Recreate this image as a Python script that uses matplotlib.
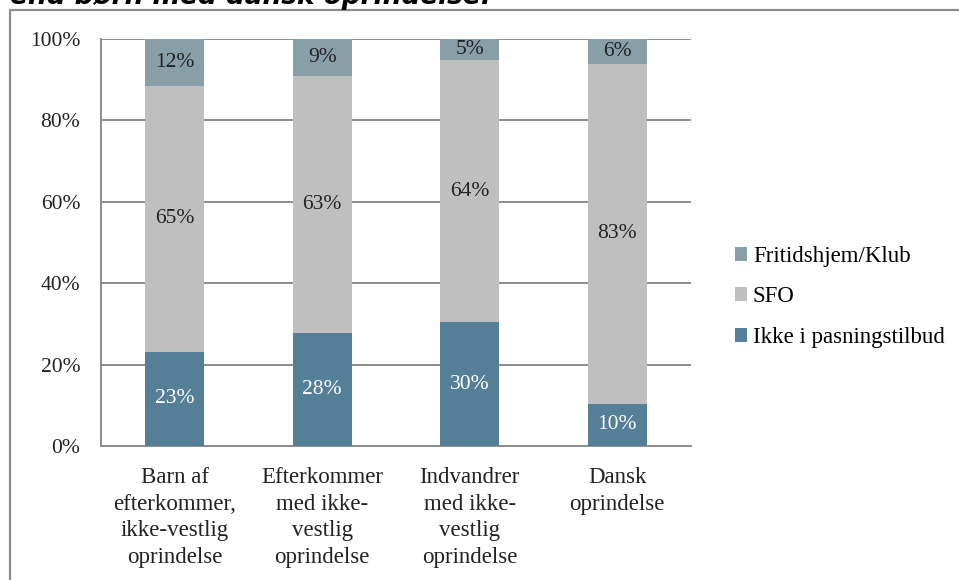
import matplotlib
matplotlib.use("Agg")
import matplotlib.pyplot as plt
import numpy as np
from matplotlib.patches import Rectangle

# andele (%) pr. gruppe
categories = ["Barn af\nefterkommer,\nikke-vestlig\noprindelse",
              "Efterkommer\nmed ikke-\nvestlig\noprindelse",
              "Indvandrer\nmed ikke-\nvestlig\noprindelse",
              "Dansk\noprindelse"]
ikke_pasning = [23.1, 27.8, 30.4, 10.4]
sfo = [65.4, 63.1, 64.4, 83.4]
fritidshjem = [11.5, 9.1, 5.2, 6.2]
ikke_lbl = ["23%", "28%", "30%", "10%"]
sfo_lbl = ["65%", "63%", "64%", "83%"]
fritid_lbl = ["12%", "9%", "5%", "6%"]
series_names = ["Ikke i pasningstilbud", "SFO", "Fritidshjem/Klub"]
yticks = [0, 20, 40, 60, 80, 100]

c_ikke = "#557f96"
c_sfo = "#bfbfbf"
c_fritid = "#889fa8"
grid_c = "#8c8c8c"
fs_num = 15.5
fs_txt = 16.5

plt.rcParams["font.family"] = ["Liberation Serif", "DejaVu Serif"]

W, H = 959, 580
fig = plt.figure(figsize=(W / 100, H / 100), dpi=100)
ax = fig.add_axes([101 / W, (H - 446) / H, 590 / W, 407 / H])

x = np.arange(len(categories))
width = 0.4
ikke = np.array(ikke_pasning)
s = np.array(sfo)
f = np.array(fritidshjem)

b1 = ax.bar(x, ikke, width, color=c_ikke, label=series_names[0], zorder=3)
b2 = ax.bar(x, s, width, bottom=ikke, color=c_sfo, label=series_names[1], zorder=3)
b3 = ax.bar(x, f, width, bottom=ikke + s, color=c_fritid, label=series_names[2], zorder=3)

ax.bar_label(b1, labels=ikke_lbl, label_type="center", color="white", fontsize=fs_num)
ax.bar_label(b2, labels=sfo_lbl, label_type="center", color="#222222", fontsize=fs_num)
ax.bar_label(b3, labels=fritid_lbl, label_type="center", color="#222222", fontsize=fs_num)

ax.set_xlim(-0.5, len(categories) - 0.5)
ax.set_ylim(0, 100)
ax.set_yticks(yticks, labels=[f"{v}%" for v in yticks], fontsize=fs_num)
ax.set_xticks(x, labels=categories, fontsize=fs_txt, linespacing=1.36)
ax.tick_params(axis="both", length=0, colors="#222222")
ax.tick_params(axis="y", pad=15)
ax.tick_params(axis="x", pad=15)
ax.yaxis.grid(True, color=grid_c, linewidth=1.4, zorder=0)
for side in ["top", "right"]:
    ax.spines[side].set_visible(False)
for side in ["left", "bottom"]:
    ax.spines[side].set_color(grid_c)
    ax.spines[side].set_linewidth(1.4)

handles, labels = ax.get_legend_handles_labels()
ax.legend(handles[::-1], labels[::-1], loc="center left", bbox_to_anchor=(714 / W, 1 - 297 / H),
          bbox_transform=fig.transFigure, frameon=False, fontsize=fs_txt,
          handlelength=0.55, handleheight=0.55, handletextpad=0.25, labelspacing=0.85)

# ramme om diagrammet
fig.add_artist(Rectangle((10 / W, -0.05), 1.1, 1 - 10 / H + 0.05, transform=fig.transFigure,
                         fill=False, edgecolor="#8c8c8c", linewidth=1.6))

# afskåret overskrift over diagrammet
fig.text(10 / W, 1 - 4 / H, "end børn med dansk oprindelse.", family="DejaVu Sans",
         fontweight="bold", style="italic", fontsize=19, va="baseline", ha="left")

fig.savefig("out.png", dpi=100)
